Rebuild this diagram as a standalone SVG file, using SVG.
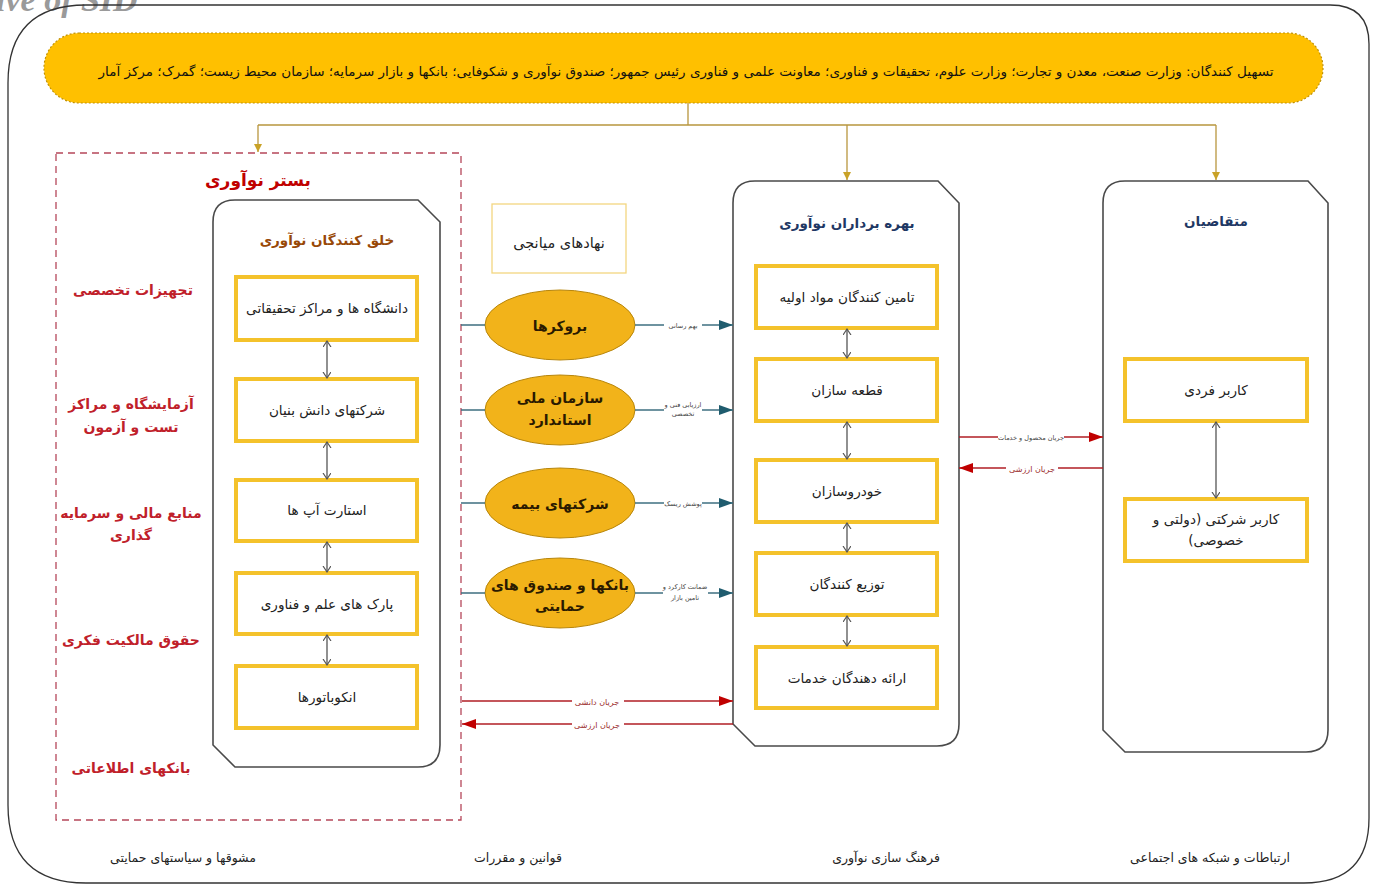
<svg xmlns="http://www.w3.org/2000/svg" width="1373" height="885" viewBox="0 0 1373 885">
<style>
.fa{font-family:"DejaVu Sans","Noto Sans",sans-serif;direction:rtl;text-anchor:middle}
.box{fill:#fff;stroke:#F4C22B;stroke-width:4}
.cont{fill:#fff;stroke:#4a4a4a;stroke-width:1.6}
.ell{fill:#F2B31A;stroke:#B8860B;stroke-width:1}
.nt{font-size:13.6px;fill:#222}
.et{font-size:14px;fill:#2a1a00;font-weight:bold}
.rl{font-size:14px;fill:#C0202A;font-weight:bold}
.sl{font-size:6.5px;fill:#444}
.fl{font-size:8px;fill:#9a2a2a}
.bt{font-size:12.5px;fill:#222}
.gold{stroke:#B8963E;stroke-width:1.3;fill:none}
.teal{stroke:#3E6F80;stroke-width:1.3;fill:none}
.red{stroke:#B01E24;stroke-width:1.3;fill:none}
.dbl{stroke:#555;stroke-width:1.3;fill:none}
.wb{fill:#fff}
</style>
<defs>
<marker id="mg" markerWidth="10" markerHeight="10" refX="8" refY="4" orient="auto" markerUnits="userSpaceOnUse"><path d="M0,0 L8,4 L0,8 Z" fill="#C9A227"/></marker>
<marker id="mt" markerWidth="16" markerHeight="12" refX="14" refY="5" orient="auto" markerUnits="userSpaceOnUse"><path d="M0,0 L14,5 L0,10 Z" fill="#1F5C6E"/></marker>
<marker id="mr" markerWidth="16" markerHeight="12" refX="14" refY="5" orient="auto" markerUnits="userSpaceOnUse"><path d="M0,0 L14,5 L0,10 Z" fill="#C00000"/></marker>
<marker id="md" markerWidth="10" markerHeight="10" refX="6" refY="4" orient="auto-start-reverse" markerUnits="userSpaceOnUse"><path d="M0,0 L6,4 L0,8" fill="none" stroke="#555" stroke-width="1.2"/></marker>
</defs>

<text x="-4" y="11" font-family="Liberation Serif,serif" font-style="italic" font-weight="bold" font-size="34" fill="#9a9a9a">ive of SID</text>
<path d="M86,5 H1330 Q1369,5 1369,44 V818 Q1369,883 1304,883 H86 Q8,883 8,805 V83 Q8,5 86,5 Z" fill="none" stroke="#333" stroke-width="1.3"/>

<g id="banner">
<rect x="44" y="33" width="1279" height="70" rx="35" ry="35" fill="#FFC000" stroke="#C09000" stroke-width="1.2" stroke-dasharray="2 2"/>
<text class="fa" x="686" y="76" font-size="13" fill="#111" textLength="1175" lengthAdjust="spacingAndGlyphs">تسهیل کنندگان: وزارت صنعت، معدن و تجارت؛ وزارت علوم، تحقیقات و فناوری؛ معاونت علمی و فناوری رئیس جمهور؛ صندوق نوآوری و شکوفایی؛ بانکها و بازار سرمایه؛ سازمان محیط زیست؛ گمرک؛ مرکز آمار</text>
</g>

<g id="bastar">
<rect x="56" y="153" width="405" height="667" fill="none" stroke="#B5475A" stroke-width="1.3" stroke-dasharray="7 5"/>
<text class="fa" x="258" y="186" font-size="17" font-weight="bold" fill="#C00000">بستر نوآوری</text>
<text class="fa rl" x="133" y="295">تجهیزات تخصصی</text>
<text class="fa rl" x="131" y="409">آزمایشگاه و مراکز</text>
<text class="fa rl" x="131" y="432">تست و آزمون</text>
<text class="fa rl" x="131" y="518">منابع مالی و سرمایه</text>
<text class="fa rl" x="131" y="540">گذاری</text>
<text class="fa rl" x="131" y="645">حقوق مالکیت فکری</text>
<text class="fa rl" x="131" y="773">بانکهای اطلاعاتی</text>
</g>

<g id="creators">
<path class="cont" d="M235,200 L418,200 L440,222 L440,745 Q440,767 418,767 L235,767 L213,745 L213,222 Q213,200 235,200 Z"/>
<text class="fa" x="327" y="245" font-size="13.5" font-weight="bold" fill="#984807">خلق کنندگان نوآوری</text>
</g>
<g id="c1"><rect class="box" x="236" y="277" width="181" height="63"/><text class="fa nt" x="327" y="313">دانشگاه ها و مراکز تحقیقاتی</text></g>
<g id="c2"><rect class="box" x="236" y="379" width="181" height="62"/><text class="fa nt" x="327" y="415">شرکتهای دانش بنیان</text></g>
<g id="c3"><rect class="box" x="236" y="480" width="181" height="61"/><text class="fa nt" x="327" y="515">استارت آپ ها</text></g>
<g id="c4"><rect class="box" x="236" y="573" width="181" height="61"/><text class="fa nt" x="327" y="609">پارک های علم و فناوری</text></g>
<g id="c5"><rect class="box" x="236" y="666" width="181" height="62"/><text class="fa nt" x="327" y="702">انکوباتورها</text></g>

<g id="mediators">
<rect x="492" y="204" width="134" height="69" fill="#fff" stroke="#F3D680" stroke-width="1.3"/>
<text class="fa" x="559" y="248" font-size="14.5" fill="#222">نهادهای میانجی</text>
</g>
<g id="e1"><ellipse class="ell" cx="560" cy="325" rx="75" ry="35"/><text class="fa et" x="560" y="331">بروکرها</text></g>
<g id="e2"><ellipse class="ell" cx="560" cy="410" rx="75" ry="35"/><text class="fa et" x="560" y="403">سازمان ملی</text><text class="fa et" x="560" y="425">استاندارد</text></g>
<g id="e3"><ellipse class="ell" cx="560" cy="503" rx="75" ry="35"/><text class="fa et" x="560" y="509">شرکتهای بیمه</text></g>
<g id="e4"><ellipse class="ell" cx="560" cy="593" rx="75" ry="35"/><text class="fa et" x="560" y="590">بانکها و صندوق های</text><text class="fa et" x="560" y="611">حمایتی</text></g>

<g id="exploiters">
<path class="cont" d="M755,181 L938,181 L959,203 L959,724 Q959,746 937,746 L755,746 L733,724 L733,203 Q733,181 755,181 Z"/>
<text class="fa" x="847" y="228" font-size="13.5" font-weight="bold" fill="#1F3864">بهره برداران نوآوری</text>
</g>
<g id="x1"><rect class="box" x="756" y="266" width="181" height="62"/><text class="fa nt" x="847" y="302">تامین کنندگان مواد اولیه</text></g>
<g id="x2"><rect class="box" x="756" y="359" width="181" height="62"/><text class="fa nt" x="847" y="395">قطعه سازان</text></g>
<g id="x3"><rect class="box" x="756" y="460" width="181" height="62"/><text class="fa nt" x="847" y="496">خودروسازان</text></g>
<g id="x4"><rect class="box" x="756" y="553" width="181" height="62"/><text class="fa nt" x="847" y="589">توزیع کنندگان</text></g>
<g id="x5"><rect class="box" x="756" y="647" width="181" height="61"/><text class="fa nt" x="847" y="683">ارائه دهندگان خدمات</text></g>

<g id="demanders">
<path class="cont" d="M1125,181 L1308,181 L1328,203 L1328,730 Q1328,752 1306,752 L1125,752 L1103,730 L1103,203 Q1103,181 1125,181 Z"/>
<text class="fa" x="1216" y="226" font-size="13.5" font-weight="bold" fill="#1F3864">متقاضیان</text>
</g>
<g id="d1"><rect class="box" x="1125" y="359" width="182" height="62"/><text class="fa nt" x="1216" y="395">کاربر فردی</text></g>
<g id="d2"><rect class="box" x="1125" y="499" width="182" height="62"/><text class="fa nt" x="1216" y="524">کاربر شرکتی (دولتی و</text><text class="fa nt" x="1216" y="545">خصوصی)</text></g>

<g id="bottom">
<text class="fa bt" x="183" y="862">مشوقها و سیاستهای حمایتی</text>
<text class="fa bt" x="518" y="862">قوانین و مقررات</text>
<text class="fa bt" x="886" y="862">فرهنگ سازی نوآوری</text>
<text class="fa bt" x="1210" y="862">ارتباطات و شبکه های اجتماعی</text>
</g>

<g id="connectors">
<path class="gold" d="M688,103 V125 M258,125 H1216"/>
<path class="gold" d="M258,125 V152" marker-end="url(#mg)"/>
<path class="gold" d="M847,125 V180" marker-end="url(#mg)"/>
<path class="gold" d="M1216,125 V180" marker-end="url(#mg)"/>

<path class="dbl" d="M327,341 V378" marker-start="url(#md)" marker-end="url(#md)"/>
<path class="dbl" d="M327,442 V479" marker-start="url(#md)" marker-end="url(#md)"/>
<path class="dbl" d="M327,542 V572" marker-start="url(#md)" marker-end="url(#md)"/>
<path class="dbl" d="M327,635 V665" marker-start="url(#md)" marker-end="url(#md)"/>
<path class="dbl" d="M847,329 V358" marker-start="url(#md)" marker-end="url(#md)"/>
<path class="dbl" d="M847,422 V459" marker-start="url(#md)" marker-end="url(#md)"/>
<path class="dbl" d="M847,523 V552" marker-start="url(#md)" marker-end="url(#md)"/>
<path class="dbl" d="M847,616 V646" marker-start="url(#md)" marker-end="url(#md)"/>
<path class="dbl" d="M1216,422 V498" marker-start="url(#md)" marker-end="url(#md)"/>

<path class="teal" d="M461,325 H485 M461,410 H485 M461,503 H485 M461,593 H485"/>
<path class="teal" d="M635,325 H733" marker-end="url(#mt)"/>
<path class="teal" d="M635,410 H733" marker-end="url(#mt)"/>
<path class="teal" d="M635,503 H733" marker-end="url(#mt)"/>
<path class="teal" d="M635,593 H733" marker-end="url(#mt)"/>
<rect class="wb" x="664" y="321" width="38" height="9"/>
<text class="fa sl" x="683" y="328">بهم رسانی</text>
<rect class="wb" x="664" y="401" width="38" height="17"/>
<text class="fa sl" x="683" y="407">ارزیابی فنی و</text>
<text class="fa sl" x="683" y="416">تخصصی</text>
<rect class="wb" x="664" y="499" width="38" height="9"/>
<text class="fa sl" x="683" y="506">پوشش ریسک</text>
<rect class="wb" x="663" y="582" width="45" height="20"/>
<text class="fa sl" x="685" y="589">ضمانت کارکرد و</text>
<text class="fa sl" x="685" y="600">تامین بازار</text>

<path class="red" d="M462,701 H733" marker-end="url(#mr)"/>
<path class="red" d="M733,724 H462" marker-end="url(#mr)"/>
<rect class="wb" x="572" y="696" width="52" height="11"/>
<text class="fa fl" x="597" y="705">جریان دانشی</text>
<rect class="wb" x="572" y="719" width="52" height="11"/>
<text class="fa fl" x="597" y="728">جریان ارزشی</text>

<path class="red" d="M959,437 H1103" marker-end="url(#mr)"/>
<path class="red" d="M1103,468 H959" marker-end="url(#mr)"/>
<rect class="wb" x="998" y="432" width="66" height="10"/>
<text class="fa sl" x="1031" y="440" fill="#9a2a2a">جریان محصول و خدمات</text>
<rect class="wb" x="1006" y="463" width="52" height="11"/>
<text class="fa fl" x="1032" y="472">جریان ارزشی</text>
</g>
</svg>
